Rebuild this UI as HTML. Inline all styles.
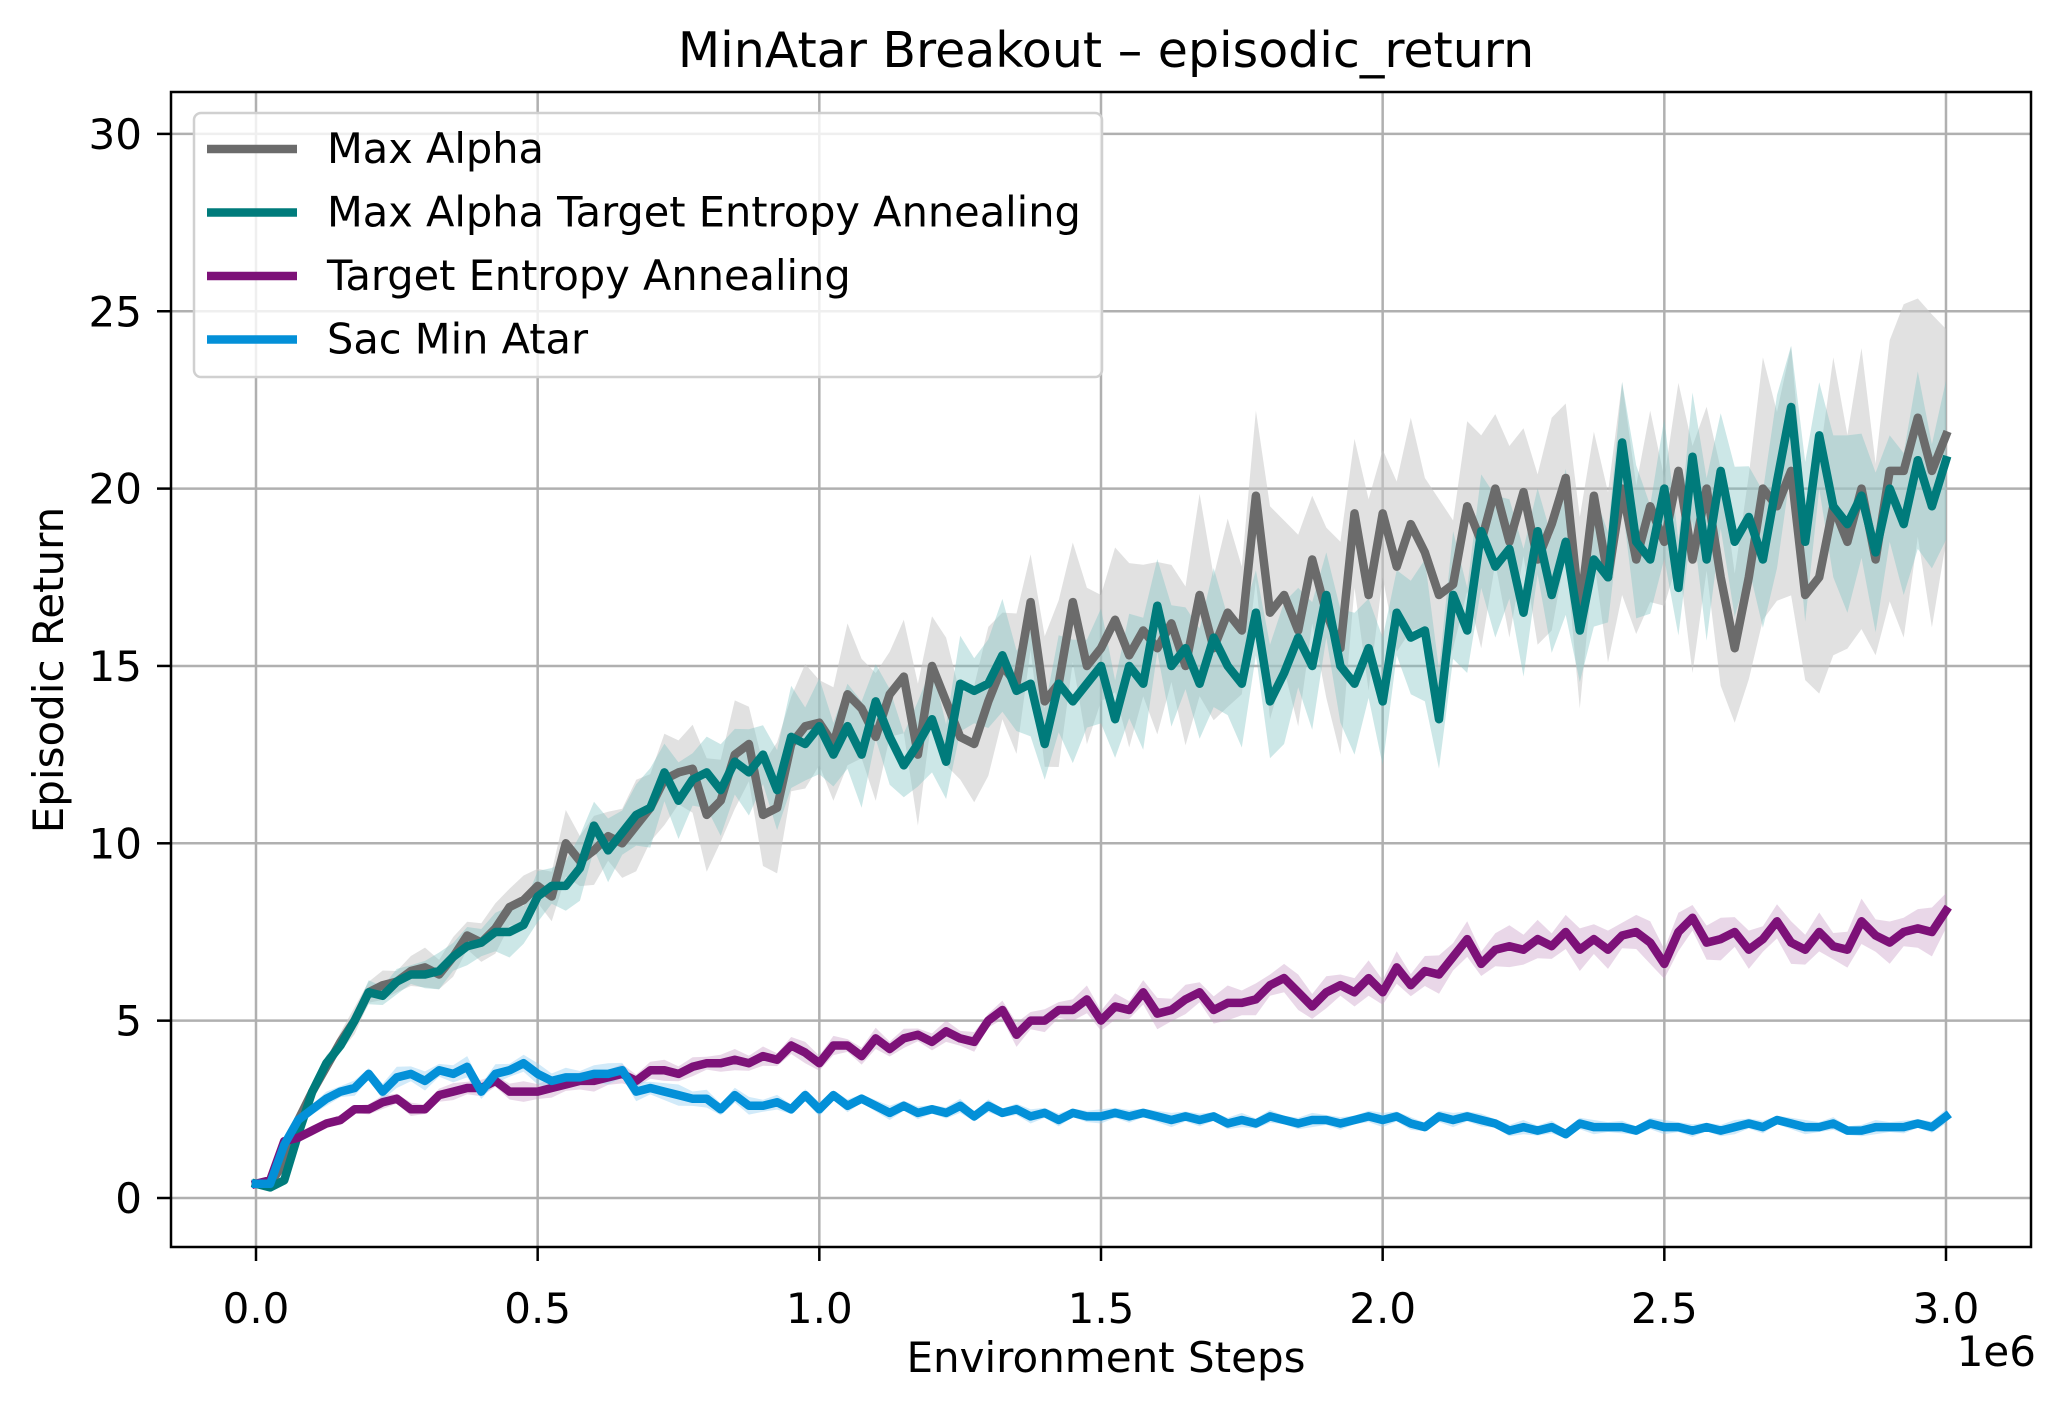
<!DOCTYPE html>
<html><head><meta charset="utf-8"><style>
html,body{margin:0;padding:0;background:#fff;}
svg text{font-family:"DejaVu Sans","Liberation Sans",sans-serif;fill:#000;}
</style></head><body>
<svg id="chart" width="2060" height="1407" viewBox="0 0 2060 1407" xmlns="http://www.w3.org/2000/svg">
<rect x="0" y="0" width="2060" height="1407" fill="#fff"/>
<text x="1106" y="67" font-size="49" text-anchor="middle">MinAtar Breakout – episodic_return</text>
<text x="1106" y="1372" font-size="42" text-anchor="middle">Environment Steps</text>
<text x="2036" y="1366" font-size="42" text-anchor="end">1e6</text>
<text transform="translate(63,670) rotate(-90)" font-size="42" text-anchor="middle">Episodic Return</text>
<g id="grid"></g>
<g id="bands"></g>
<g id="lines"></g>
<rect x="171" y="92" width="1860" height="1155" fill="none" stroke="#000" stroke-width="2.5"/>
<g id="ticks"></g>
<g id="legend"></g>
</svg>
<script>
const xTicks = [0, 0.5, 1.0, 1.5, 2.0, 2.5, 3.0];
const xTickLabels = ["0.0", "0.5", "1.0", "1.5", "2.0", "2.5", "3.0"];
const yTicks = [0, 5, 10, 15, 20, 25, 30];
const yTickLabels = ["0", "5", "10", "15", "20", "25", "30"];
const seriesNames = ["Max Alpha", "Max Alpha Target Entropy Annealing", "Target Entropy Annealing", "Sac Min Atar"];
const seriesColors = ["#6b6b6b", "#007b7b", "#7d1178", "#0390d8"];
const stepSize = 0.025;
const maxAlpha = [0.4,0.4,1.0,2.2,3.0,3.7,4.4,5.0,5.8,6.0,6.1,6.4,6.5,6.3,6.8,7.4,7.2,7.6,8.2,8.4,8.8,8.5,10.0,9.5,9.8,10.2,10.0,10.5,11.0,11.8,12.0,12.1,10.8,11.2,12.5,12.8,10.8,11.0,12.8,13.3,13.4,12.8,14.2,13.8,13.0,14.2,14.7,12.5,15.0,14.0,13.0,12.8,14.0,15.0,14.5,16.8,14.0,14.5,16.8,15.0,15.5,16.3,15.3,16.0,15.5,16.2,15.0,17.0,15.5,16.5,16.0,19.8,16.5,17.0,16.0,18.0,16.5,15.5,19.3,17.0,19.3,17.8,19.0,18.2,17.0,17.3,19.5,18.5,20.0,18.5,19.9,18.0,19.0,20.3,16.5,19.8,17.5,20.0,18.0,19.5,18.5,20.5,18.0,20.0,17.5,15.5,17.5,20.0,19.5,20.5,17.0,17.5,19.5,18.5,20.0,18.0,20.5,20.5,22.0,20.5,21.5];
const maxAlphaTEA = [0.4,0.3,0.5,1.8,3.0,3.8,4.3,5.0,5.8,5.7,6.1,6.3,6.3,6.4,6.8,7.1,7.2,7.5,7.5,7.7,8.5,8.8,8.8,9.3,10.5,9.8,10.3,10.8,11.0,12.0,11.2,11.8,12.0,11.5,12.3,12.0,12.5,11.5,13.0,12.8,13.3,12.5,13.3,12.5,14.0,13.0,12.2,12.8,13.5,12.3,14.5,14.3,14.5,15.3,14.3,14.5,12.8,14.5,14.0,14.5,15.0,13.5,15.0,14.5,16.7,15.0,15.5,14.5,15.8,15.0,14.5,16.5,14.0,14.8,15.8,15.0,17.0,15.0,14.5,15.5,14.0,16.5,15.8,16.0,13.5,17.0,16.0,18.8,17.8,18.3,16.5,18.8,17.0,18.5,16.0,18.0,17.5,21.3,18.5,18.0,20.0,17.2,20.9,18.0,20.5,18.5,19.2,18.0,20.2,22.3,18.5,21.5,19.5,19.0,19.8,18.2,20.0,19.0,20.8,19.5,20.8];
const targetEA = [0.4,0.5,1.6,1.7,1.9,2.1,2.2,2.5,2.5,2.7,2.8,2.5,2.5,2.9,3.0,3.1,3.1,3.3,3.0,3.0,3.0,3.1,3.2,3.3,3.3,3.4,3.5,3.3,3.6,3.6,3.5,3.7,3.8,3.8,3.9,3.8,4.0,3.9,4.3,4.1,3.8,4.3,4.3,4.0,4.5,4.2,4.5,4.6,4.4,4.7,4.5,4.4,5.0,5.3,4.6,5.0,5.0,5.3,5.3,5.6,5.0,5.4,5.3,5.8,5.2,5.3,5.6,5.8,5.3,5.5,5.5,5.6,6.0,6.2,5.8,5.4,5.8,6.0,5.8,6.2,5.8,6.5,6.0,6.4,6.3,6.8,7.3,6.6,7.0,7.1,7.0,7.3,7.1,7.5,7.0,7.3,7.0,7.4,7.5,7.2,6.6,7.5,7.9,7.2,7.3,7.5,7.0,7.3,7.8,7.2,7.0,7.5,7.1,7.0,7.8,7.4,7.2,7.5,7.6,7.5,8.1];
const sacMinAtar = [0.4,0.4,1.5,2.2,2.5,2.8,3.0,3.1,3.5,3.0,3.4,3.5,3.3,3.6,3.5,3.7,3.0,3.5,3.6,3.8,3.5,3.3,3.4,3.4,3.5,3.5,3.6,3.0,3.1,3.0,2.9,2.8,2.8,2.5,2.9,2.6,2.6,2.7,2.5,2.9,2.5,2.9,2.6,2.8,2.6,2.4,2.6,2.4,2.5,2.4,2.6,2.3,2.6,2.4,2.5,2.3,2.4,2.2,2.4,2.3,2.3,2.4,2.3,2.4,2.3,2.2,2.3,2.2,2.3,2.1,2.2,2.1,2.3,2.2,2.1,2.2,2.2,2.1,2.2,2.3,2.2,2.3,2.1,2.0,2.3,2.2,2.3,2.2,2.1,1.9,2.0,1.9,2.0,1.8,2.1,2.0,2.0,2.0,1.9,2.1,2.0,2.0,1.9,2.0,1.9,2.0,2.1,2.0,2.2,2.1,2.0,2.0,2.1,1.9,1.9,2.0,2.0,2.0,2.1,2.0,2.3];
// band half-widths sampled every 0.25e6
const maxAlphaSpread = [0.1,0.5,0.8,1.5,2.0,2.0,2.5,3.0,3.0,3.0,3.0,4.0,5.0];
const maxAlphaTEASpread = [0.1,0.4,0.8,1.2,1.5,1.5,1.8,2.0,2.0,2.0,2.2,2.5,2.5];
const targetEASpread = [0.1,0.2,0.3,0.3,0.3,0.3,0.4,0.5,0.5,0.6,0.6,0.6,0.7];
const sacMinAtarSpread = [0.1,0.3,0.3,0.3,0.2,0.2,0.2,0.2,0.2,0.2,0.2,0.2,0.2];

const NS = "http://www.w3.org/2000/svg";
const X0 = 256, XS = 563.33, Y0 = 1198, YS = 35.47;
function xScale(v){ return X0 + v * XS; }
function yScale(v){ return Y0 - v * YS; }
function mk(tag, attrs, parent){ const e = document.createElementNS(NS, tag); for (const k in attrs) e.setAttribute(k, attrs[k]); parent.appendChild(e); return e; }
function spreadAt(arr, x){ const p = x / 0.25; const i = Math.min(Math.floor(p), arr.length - 2); const f = p - i; return arr[i] * (1 - f) + arr[i + 1] * f; }

const grid = document.getElementById('grid');
const ticks = document.getElementById('ticks');
xTicks.forEach((t, i) => {
  const gl = mk('line', {x1: xScale(t), x2: xScale(t), y1: 92, y2: 1247, stroke: '#b0b0b0', 'stroke-width': 2.5}, grid);
  
  
  const tk = mk('line', {x1: xScale(t), x2: xScale(t), y1: 1247, y2: 1261, stroke: '#000', 'stroke-width': 2.5}, ticks);
  
  
  const tx = mk('text', {x: xScale(t), y: 1323, 'font-size': 42, 'text-anchor': 'middle'}, ticks);
  tx.textContent = xTickLabels[i];
  
  
});
yTicks.forEach((t, i) => {
  const gl = mk('line', {x1: 171, x2: 2031, y1: yScale(t), y2: yScale(t), stroke: '#b0b0b0', 'stroke-width': 2.5}, grid);
  
  
  const tk = mk('line', {x1: 157, x2: 171, y1: yScale(t), y2: yScale(t), stroke: '#000', 'stroke-width': 2.5}, ticks);
  
  
  const tx = mk('text', {x: 142, y: yScale(t) + 15, 'font-size': 42, 'text-anchor': 'end'}, ticks);
  tx.textContent = yTickLabels[i];
  
  
});

const allSeries = [maxAlpha, maxAlphaTEA, targetEA, sacMinAtar];
const allSpreads = [maxAlphaSpread, maxAlphaTEASpread, targetEASpread, sacMinAtarSpread];
const bandColors = ["#c8c8c8", "#7fc4c4", "#c99ac6", "#8ccbef"];
const bandOpacity = [0.55, 0.4, 0.4, 0.4];
const slugs = ["max-alpha", "max-alpha-tea", "target-entropy-annealing", "sac-min-atar"];
const bands = document.getElementById('bands');
const lines = document.getElementById('lines');
allSeries.forEach((s, k) => {
  let up = [], lo = [];
  s.forEach((v, i) => {
    const x = i * stepSize;
    const w = spreadAt(allSpreads[k], x) * (0.6 + 0.4 * ((i * 7 + k * 3) % 5) / 4);
    up.push(xScale(x).toFixed(1) + ',' + yScale(v + w).toFixed(1));
    lo.unshift(xScale(x).toFixed(1) + ',' + yScale(v - w).toFixed(1));
  });
  const b = mk('polygon', {points: up.concat(lo).join(' '), fill: bandColors[k], 'fill-opacity': bandOpacity[k], stroke: 'none'}, bands);
  
  
});
allSeries.forEach((s, k) => {
  const pts = s.map((v, i) => xScale(i * stepSize).toFixed(1) + ',' + yScale(v).toFixed(1)).join(' ');
  const l = mk('polyline', {points: pts, fill: 'none', stroke: seriesColors[k], 'stroke-width': 8.5, 'stroke-linejoin': 'round', 'stroke-linecap': 'square'}, lines);
  
  
});

const legend = document.getElementById('legend');
const lb = mk('rect', {x: 194, y: 113, width: 908, height: 264, rx: 7, fill: '#fff', 'fill-opacity': 0.8, stroke: '#d0d0d0', 'stroke-width': 2.5}, legend);


seriesNames.forEach((n, k) => {
  const y = 149 + k * 63.5;
  const g = mk('g', {}, legend);
  
  
  mk('line', {x1: 207, x2: 297, y1: y, y2: y, stroke: seriesColors[k], 'stroke-width': 8.5}, g);
  const t = mk('text', {x: 327, y: y + 14, 'font-size': 41.5}, g);
  t.textContent = n;
});
</script>
</body></html>
